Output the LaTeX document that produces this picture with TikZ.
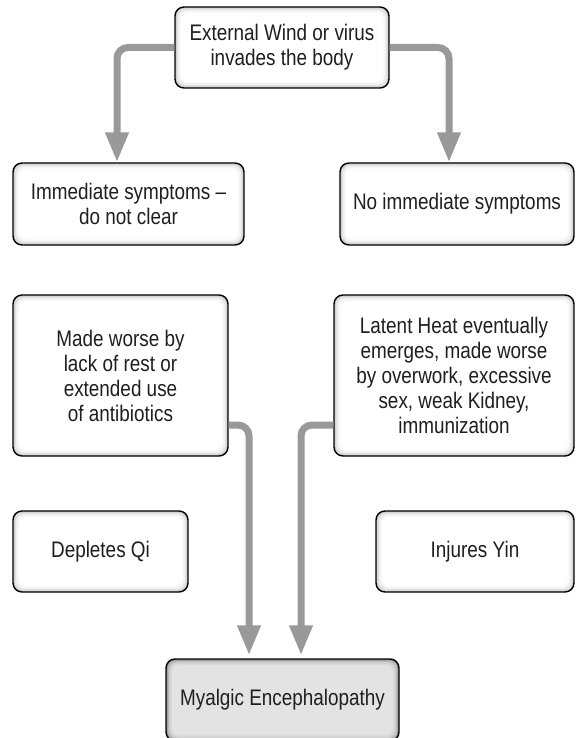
\documentclass[tikz,border=0pt]{standalone}
\usepackage{fontspec}
\setmainfont{Liberation Sans}[FakeStretch=0.84]
\usepackage{tikz}
\usetikzlibrary{arrows.meta}

\begin{document}
\begin{tikzpicture}[
  x=1pt, y=-1pt,
  glow/.style={path picture={
      \foreach \d/\c in {#1}
        \fill[black!\c, rounded corners=8pt]
          ([shift={(\d pt,\d pt)}]path picture bounding box.south west) rectangle
          ([shift={(-\d pt,-\d pt)}]path picture bounding box.north east);}},
  box/.style={draw=black, line width=1.4pt, rounded corners=9pt, align=center,
              inner sep=0pt, text=black!88,
              font=\fontsize{22.5}{25}\selectfont,
              glow={0/20,1.5/12,3/6,4.5/2,6/0}},
  endbox/.style={box, glow={0/42,1.5/28,3/19,4.5/14,6/11}},
  link/.style={draw=black!40, line width=7pt, rounded corners=11pt,
               -{Triangle[width=22pt,length=30pt]}},
]
\useasboundingbox (0,0) rectangle (575,738);

% --- boxes --------------------------------------------------------------
\node[box, minimum width=214pt, minimum height=81pt] (wind) at (282,47.5)
     {External Wind or virus\\invades the body};
\node[box, minimum width=231pt, minimum height=82pt] (imm) at (128.5,204)
     {Immediate symptoms --\\do not clear};
\node[box, minimum width=234pt, minimum height=82pt] (noimm) at (457,204)
     {No immediate symptoms};
\node[box, minimum width=215pt, minimum height=161pt] (worse) at (120.5,375.5)
     {Made worse by\\lack of rest or\\extended use\\of antibiotics};
\node[box, minimum width=240pt, minimum height=161pt] (latent) at (454,375.5)
     {Latent Heat eventually\\emerges, made worse\\by overwork, excessive\\sex, weak Kidney,\\immunization};
\node[box, minimum width=175pt, minimum height=81pt] (qi) at (100.5,551.5)
     {Depletes Qi};
\node[box, minimum width=198pt, minimum height=81pt] (yin) at (475,551.5)
     {Injures Yin};
\node[endbox, minimum width=233pt, minimum height=82pt] (me) at (282.5,700)
     {Myalgic Encephalopathy};

% --- connectors ---------------------------------------------------------
\draw[link] (wind.west) -| ([xshift=-11.5pt]imm.north);
\draw[link] (wind.east) -| ([xshift=-8pt]noimm.north);
\draw[link, shorten >=3pt] ([yshift=-49.5pt]worse.east) -| ([xshift=-33.5pt]me.north);
\draw[link, shorten >=3pt] ([yshift=-49.5pt]latent.west) -| ([xshift=18.5pt]me.north);
\end{tikzpicture}
\end{document}
